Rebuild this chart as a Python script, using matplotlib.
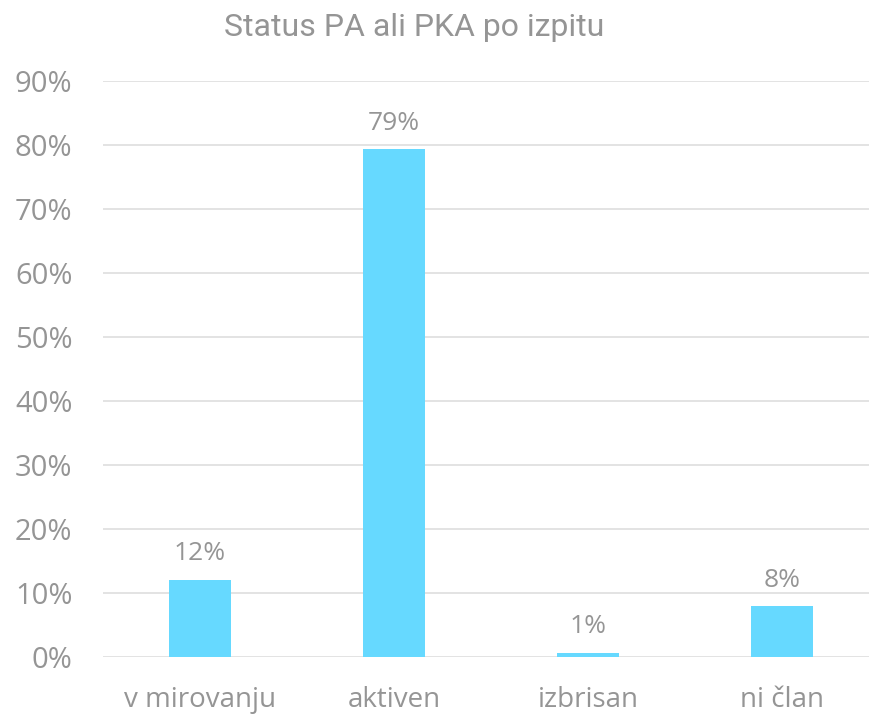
import matplotlib
matplotlib.use("Agg")
import matplotlib.pyplot as plt
from matplotlib.ticker import PercentFormatter

categories = ["v mirovanju", "aktiven", "izbrisan", "ni član"]
shares = [0.12, 0.793, 0.007, 0.079]
share_labels = ["12%", "79%", "1%", "8%"]
title = "Status PA ali PKA po izpitu"

BAR = "#66D9FF"
TEXT = "#959595"
GRID = "#E0E0E0"

fig = plt.figure(figsize=(8.69, 7.17), dpi=100)
ax = fig.add_axes([103 / 869, 60 / 717, 776 / 869, 576 / 717])

x = range(len(categories))
ax.bar(x, shares, width=0.315, color=BAR, zorder=2)
for xi, v, lab in zip(x, shares, share_labels):
    ax.annotate(lab, (xi, v), xytext=(0, 10), textcoords="offset points",
                ha="center", va="bottom", fontsize=19, color=TEXT, family="Open Sans")

ax.set_xlim(-0.5, 3.5)
ax.set_ylim(0, 0.9)
ax.set_yticks([i / 10 for i in range(10)])
ax.yaxis.set_major_formatter(PercentFormatter(1.0, decimals=0))
ax.set_xticks(list(x))
ax.set_xticklabels(categories, fontsize=20)
ax.grid(axis="y", color=GRID, lw=1.3, zorder=0)
ax.tick_params(length=0, labelcolor=TEXT)
ax.tick_params(axis="y", labelsize=21, pad=22)
ax.tick_params(axis="x", pad=21)
for lab in ax.get_xticklabels() + ax.get_yticklabels():
    lab.set_family("Open Sans")
for s in ax.spines.values():
    s.set_visible(False)

fig.text(414 / 869, 1 - 27 / 717, title, ha="center", va="center",
         fontsize=23, color=TEXT, family="Roboto")

fig.savefig("out.png", dpi=100)
